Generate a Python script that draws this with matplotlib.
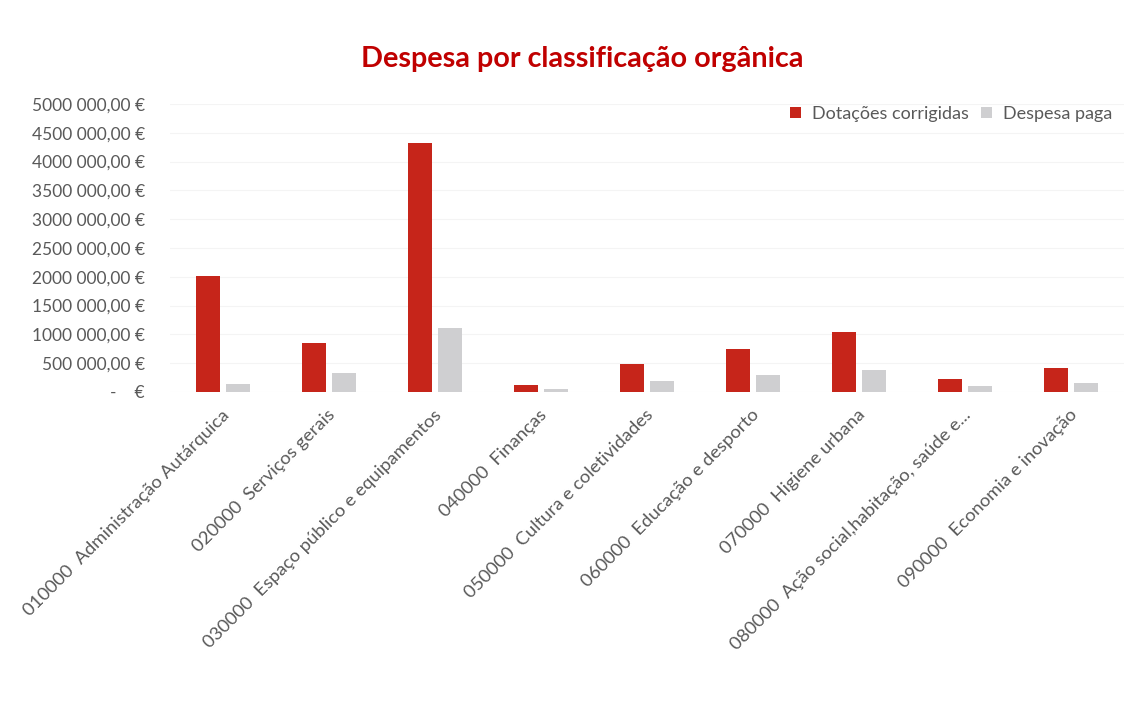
import matplotlib
matplotlib.use('Agg')
import matplotlib.pyplot as plt
import matplotlib.transforms as mtransforms
import numpy as np

# data
categorias = [
    '010000  Administração Autárquica',
    '020000  Serviços gerais',
    '030000  Espaço público e equipamentos',
    '040000  Finanças',
    '050000  Cultura e coletividades',
    '060000  Educação e desporto',
    '070000  Higiene urbana',
    '080000  Ação social,habitação, saúde e...',
    '090000  Economia e inovação',
]
dotacoes = [2015000, 843000, 4324000, 121000, 485000, 745000, 1034000, 225000, 416000]
despesa_paga = [133000, 334000, 1103000, 47000, 196000, 289000, 381000, 99000, 151000]
yticks = [0, 500000, 1000000, 1500000, 2000000, 2500000, 3000000, 3500000, 4000000, 4500000, 5000000]

plt.rcParams['font.family'] = ['Lato', 'DejaVu Sans']

vermelho = '#C6251A'
cinza = '#CFCFD1'
texto = '#595959'


def euro(v):
    v = int(v)
    if v == 0:
        return '-    €'
    return '%d %03d,00 €' % (v // 1000, v % 1000)


fig = plt.figure(figsize=(11.41, 7.2), dpi=100)
ax = fig.add_axes([0.149, 0.4556, 0.836, 0.4])

x = np.arange(len(categorias))
w = 0.23
ax.bar(x - 0.14, dotacoes, w, color=vermelho, label='Dotações corrigidas', zorder=3)
ax.bar(x + 0.14, despesa_paga, w, color=cinza, label='Despesa paga', zorder=3)

ax.set_xlim(-0.5, len(categorias) - 0.5)
ax.set_ylim(0, 5000000)
ax.set_yticks(yticks)
ax.set_yticklabels([euro(v) for v in yticks], fontsize=12.5, color=texto)
ax.yaxis.grid(True, color='#F4F4F4', linewidth=0.8, zorder=0)
ax.tick_params(axis='both', length=0)
ax.tick_params(axis='y', pad=18)
for s in ax.spines.values():
    s.set_visible(False)

ax.set_xticks(x)
ax.set_xticklabels(categorias, rotation=45, ha='right', va='top',
                   rotation_mode='anchor', fontsize=13.3, color=texto)
off = mtransforms.ScaledTranslation(-0.02, -0.1, fig.dpi_scale_trans)
for lab in ax.get_xticklabels():
    lab.set_transform(lab.get_transform() + off)

fig.text(0.51, 0.918, 'Despesa por classificação orgânica', ha='center', va='center',
         fontsize=20.7, fontweight='bold', color='#C00000')

leg = ax.legend(loc='upper right', bbox_to_anchor=(1.005, 1.05), ncol=2, frameon=False,
                fontsize=13, handlelength=0.6, handleheight=0.6, handletextpad=0.6,
                columnspacing=0.7)
for t in leg.get_texts():
    t.set_color(texto)

fig.savefig('out.png', dpi=100, facecolor='white')
